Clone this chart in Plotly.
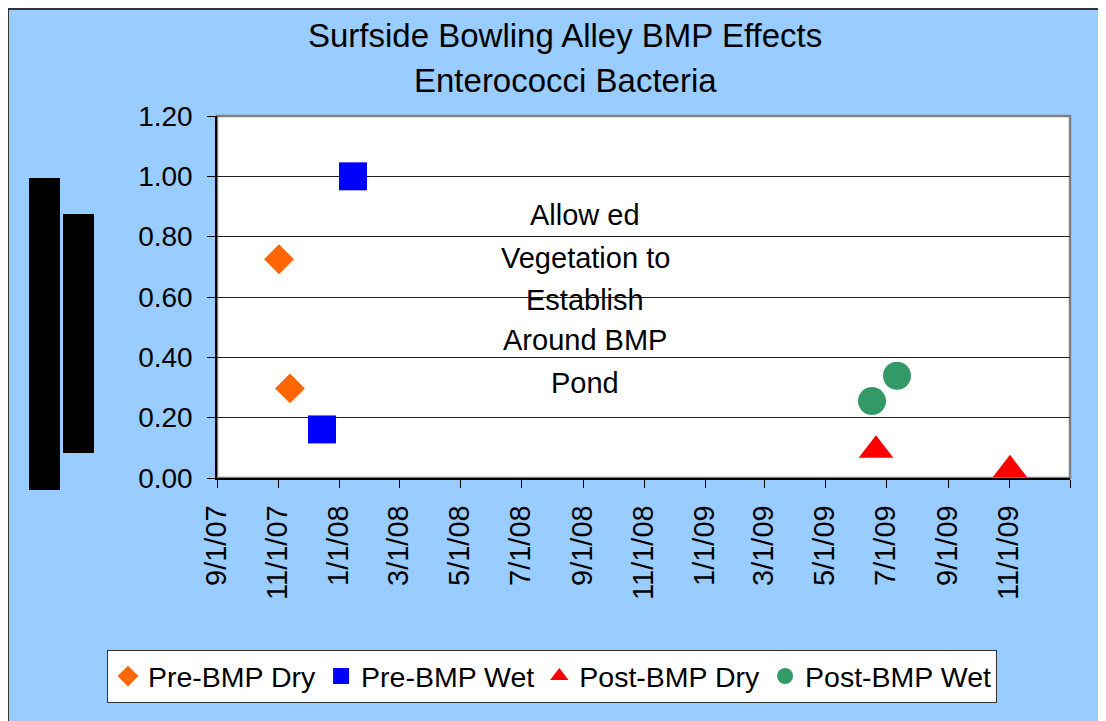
import plotly.graph_objects as go

# ---- data ----
pre_dry_dates = ["2007-11-02", "2007-11-13"]
pre_dry_vals = [0.725, 0.297]
pre_wet_dates = ["2008-01-15", "2007-12-15"]
pre_wet_vals = [1.00, 0.161]
post_dry_dates = ["2009-06-21", "2009-11-02"]
post_dry_vals = [0.092, 0.027]
post_wet_dates = ["2009-06-17", "2009-07-12"]
post_wet_vals = [0.255, 0.339]

x_tick_dates = ["2007-09-01", "2007-11-01", "2008-01-01", "2008-03-01", "2008-05-01",
                "2008-07-01", "2008-09-01", "2008-11-01", "2009-01-01", "2009-03-01",
                "2009-05-01", "2009-07-01", "2009-09-01", "2009-11-01", "2010-01-01"]
x_tick_labels = ["9/1/07", "11/1/07", "1/1/08", "3/1/08", "5/1/08", "7/1/08", "9/1/08",
                 "11/1/08", "1/1/09", "3/1/09", "5/1/09", "7/1/09", "9/1/09", "11/1/09", ""]

title_lines = ["Surfside Bowling Alley BMP Effects", "Enterococci Bacteria"]
note_lines = ["Allow ed", "Vegetation to", "Establish", "Around BMP", "Pond"]

# ---- layout geometry (page pixels; the page body has an 8 px margin) ----
OFF = 8
W, H = 1106 - OFF, 721 - OFF
L, R, T, B = 217, 1070, 116, 478          # plot area in page pixels
PW, PH = R - L, B - T


def px(x):
    return (x - L) / PW


def py(y):
    return (B - y) / PH


FONT = "Liberation Sans, Arial, sans-serif"

fig = go.Figure()
fig.add_trace(go.Scatter(x=pre_dry_dates, y=pre_dry_vals, mode="markers", name="Pre-BMP Dry",
                         marker=dict(symbol="diamond", size=23, color="#FF6600")))
fig.add_trace(go.Scatter(x=pre_wet_dates, y=pre_wet_vals, mode="markers", name="Pre-BMP Wet",
                         marker=dict(symbol="square", size=28, color="#0000FF")))
fig.add_trace(go.Scatter(x=post_dry_dates, y=post_dry_vals, mode="markers", name="Post-BMP Dry",
                         marker=dict(symbol="triangle-up", size=30, color="#FF0000")))
fig.add_trace(go.Scatter(x=post_wet_dates, y=post_wet_vals, mode="markers", name="Post-BMP Wet",
                         marker=dict(symbol="circle", size=28, color="#339966")))

shapes = [
    # chart border
    dict(type="rect", xref="paper", yref="paper", x0=px(OFF), x1=px(W + 40), y0=py(OFF + 1), y1=py(H + 40),
         line=dict(color="#333333", width=2), layer="above"),
    # plot area border
    dict(type="rect", xref="paper", yref="paper", x0=0, x1=1, y0=0, y1=1,
         line=dict(color="#808080", width=2.5), layer="below"),
    # black blocks on the left
    dict(type="rect", xref="paper", yref="paper", x0=px(29), x1=px(60), y0=py(490), y1=py(178),
         fillcolor="black", line=dict(width=0), layer="above"),
    dict(type="rect", xref="paper", yref="paper", x0=px(63), x1=px(94), y0=py(453), y1=py(214),
         fillcolor="black", line=dict(width=0), layer="above"),
]

annotations = []
for text, yc in zip(title_lines, [36, 81]):
    annotations.append(dict(text=text, xref="paper", yref="paper", x=px(565), y=py(yc),
                            xanchor="center", yanchor="middle", showarrow=False,
                            font=dict(family=FONT, size=33, color="black")))
for text, yc in zip(note_lines, [215, 258, 300, 340, 383]):
    annotations.append(dict(text=text, xref="paper", yref="paper", x=px(585), y=py(yc),
                            xanchor="center", yanchor="middle", showarrow=False,
                            font=dict(family=FONT, size=29, color="black")))

fig.update_layout(
    width=W, height=H,
    margin=dict(l=L - OFF, r=W - (R - OFF), t=T - OFF, b=H - (B - OFF), pad=0),
    paper_bgcolor="#99CCFF",
    plot_bgcolor="white",
    font=dict(family=FONT, size=28, color="black"),
    showlegend=True,
    legend=dict(orientation="h", x=px(107), y=py(650), xanchor="left", yanchor="top",
                bgcolor="white", bordercolor="#333333", borderwidth=1,
                font=dict(family=FONT, size=28.5, color="black"),
                itemclick=False, itemdoubleclick=False),
    shapes=shapes,
    annotations=annotations,
    hovermode=False,
)

fig.update_xaxes(
    type="date",
    range=["2007-09-01", "2010-01-01"],
    tickmode="array", tickvals=x_tick_dates, ticktext=x_tick_labels,
    tickangle=-90,
    ticks="outside", ticklen=8, tickcolor="black", tickwidth=1,
    showgrid=False, zeroline=False,
    showline=True, linecolor="black", linewidth=1.5,
    tickfont=dict(family=FONT, size=29, color="black"),
    ticklabelstandoff=6,
    fixedrange=True,
)
fig.update_yaxes(
    range=[0, 1.2], tick0=0, dtick=0.2, tickformat=".2f",
    ticks="outside", ticklen=8, tickcolor="black", tickwidth=1,
    showgrid=True, gridcolor="#222222", gridwidth=1,
    zeroline=False,
    showline=True, linecolor="black", linewidth=1.5,
    tickfont=dict(family=FONT, size=28, color="black"),
    ticklabelstandoff=9,
    fixedrange=True,
)

fig.write_html("out.html", config=dict(displayModeBar=False))
